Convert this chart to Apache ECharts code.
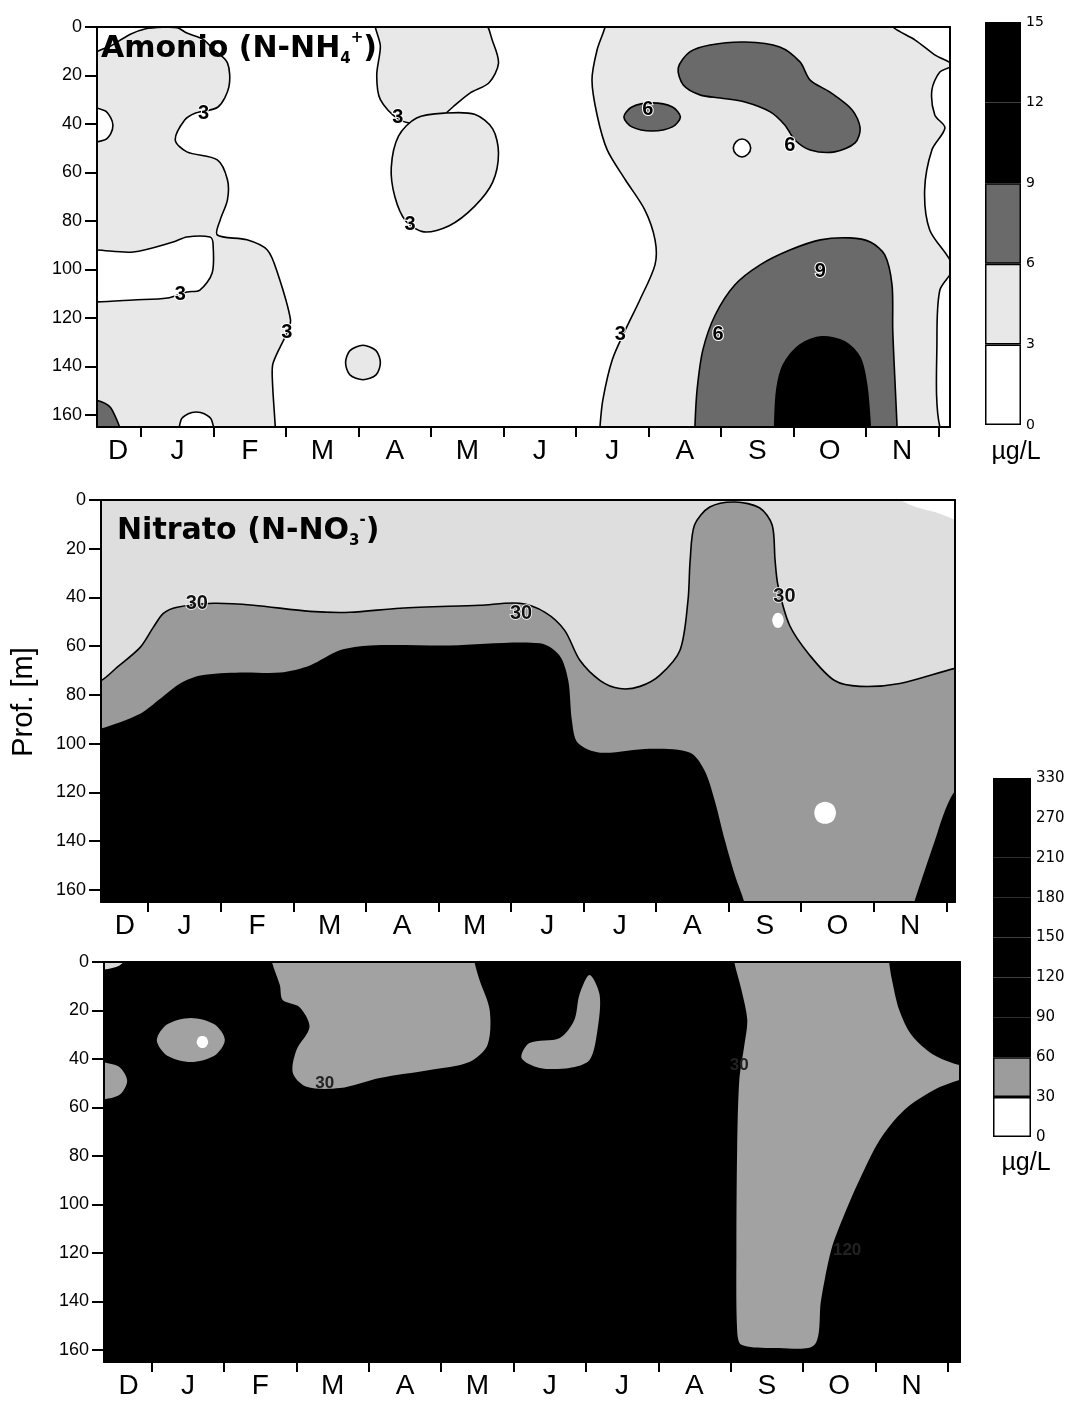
<!DOCTYPE html>
<html><head><meta charset="utf-8">
<script src="https://cdn.jsdelivr.net/npm/echarts@6/dist/echarts.min.js"></script>
<style>html,body{margin:0;padding:0;background:#fff}#c{width:1072px;height:1406px}</style>
</head><body><div id="c"></div>
<script>
// ---------- axes ----------
const monthLabels = ['D','J','F','M','A','M','J','J','A','S','O','N'];
const monthLabelPos = [0.68,1.5,2.5,3.5,4.5,5.5,6.5,7.5,8.5,9.5,10.5,11.5];
const monthTicks = [1,2,3,4,5,6,7,8,9,10,11,12];
const depthTicks = [0,20,40,60,80,100,120,140,160];

// ---------- panel 1 : Amonio, isolines [x (month position), depth m] ----------
const nh4_gt3_west = [[0.3,13],[0.6,7.5],[0.85,3],[1.05,0.8],[1.3,0.1],[1.5,0.3],[1.63,2.5],[1.85,5],[1.99,9],[2.19,14.8],[2.21,24.7],[2.06,33],[1.75,35.5],[1.6,38.4],[1.47,46.6],[1.63,51.5],[2.05,54.8],[2.19,63],[2.19,71.3],[2.09,79.6],[2.05,85.8],[2.46,87.8],[2.74,92],[2.88,101.4],[3.06,120.8],[3.01,126.2],[2.82,138.6],[2.81,145.6],[2.85,165],[2.86,172],[0.2,172]];
const nh4_gt3_north = [[4.25,-3],[4.3,8],[4.25,20],[4.3,30],[4.55,38],[4.85,40],[5.1,38],[5.3,33],[5.55,27],[5.8,23],[5.93,15],[5.85,6],[5.7,-3]];
const nh4_gt3_ring = [[4.55,45],[4.8,37.5],[5.2,35.5],[5.6,36],[5.85,42],[5.93,52],[5.85,64],[5.6,74],[5.25,82],[4.9,84.5],[4.65,80],[4.5,70],[4.45,58]];
const nh4_gt3_circle = [[4.06,131.3],[4.24,133.5],[4.3,138.5],[4.24,143.5],[4.06,145.5],[3.88,143.5],[3.82,138.5],[3.88,133.5]];
const nh4_gt3_east = [[7.4,-3],[7.4,0],[7.29,9.5],[7.22,21.9],[7.29,36.3],[7.43,50.7],[7.68,63],[7.95,75.5],[8.09,87.8],[8.09,98],[7.88,112.6],[7.68,125],[7.5,137.3],[7.37,153.8],[7.33,165],[7.32,172],[12.3,172],[12.02,165],[11.98,129],[12.02,108.5],[12.2,99],[11.88,83.7],[11.81,67.2],[11.91,50.7],[12.09,41.6],[11.95,36.3],[11.91,26],[12.02,18.6],[12.2,15.7],[11.95,11.5],[11.68,5.4],[11.37,0],[11.35,-3]];
const nh4_lt3_bump = [[0.2,33.4],[0.5,34.5],[0.58,37.5],[0.61,40.5],[0.58,44],[0.5,46.5],[0.2,47.4]];
const nh4_lt3_band = [[0.2,92],[0.39,92],[0.89,92.8],[1.44,88.7],[1.63,86.6],[1.95,86.6],[1.99,89],[1.98,101.4],[1.81,108.5],[1.63,109.3],[1.36,111.8],[0.89,112.6],[0.39,113.4],[0.2,113.4]];
const nh4_lt3_bottom = [[1.54,170],[1.55,162],[1.65,159.5],[1.76,158.8],[1.87,159.5],[1.97,162],[1.99,170]];
const nh4_lt3_hole = [[9.17,49.9],[9.21,47.3],[9.29,46.2],[9.37,47.3],[9.41,49.9],[9.37,52.5],[9.29,53.6],[9.21,52.5]];
const nh4_gt6_corner = [[0.2,153.5],[0.45,154.6],[0.6,158],[0.71,170],[0.2,170]];
const nh4_gt6_north = [[8.71,28],[8.48,23.9],[8.41,16.9],[8.57,10.3],[8.85,7.4],[9.33,6.2],[9.81,8.2],[10.09,14.4],[10.23,21.9],[10.5,26.8],[10.81,34.2],[10.92,41.6],[10.85,47.8],[10.57,51.5],[10.23,50.7],[10.02,46.6],[9.88,40.4],[9.68,35],[9.33,30.9],[8.99,29.3]];
const nh4_gt6_small = [[7.66,37.1],[7.77,33],[8.05,31.3],[8.33,33],[8.44,37.1],[8.33,41.2],[8.05,42.9],[7.77,41.2]];
const nh4_gt6_south = [[8.64,172],[8.64,165],[8.67,149.7],[8.75,133.2],[8.92,118.8],[9.19,106.4],[9.54,98.1],[9.95,92],[10.37,87.8],[10.78,87],[11.06,88.7],[11.26,94],[11.36,106.4],[11.37,125],[11.4,145.6],[11.43,165],[11.44,172]];
const nh4_gt9_south = [[9.74,172],[9.74,165],[9.77,149.7],[9.86,139.4],[10.09,131.1],[10.39,127.8],[10.71,129.9],[10.92,136.5],[11.01,147.6],[11.06,165],[11.06,172]];
const nh4Labels = [[1.86,35.5,'3'],[1.54,110.5,'3'],[3.01,126.2,'3'],[4.54,37.5,'3'],[4.71,81.6,'3'],[7.61,127,'3'],[7.99,34.2,'6'],[9.95,48.7,'6'],[8.96,127,'6'],[10.37,101,'9']];

// ---------- panel 2 : Nitrato ----------
const no3_gt30 = [[0.2,74.1],[0.35,74.1],[0.57,68.7],[0.89,60.5],[1.07,52.3],[1.21,46.5],[1.4,44],[1.9,42.4],[2.45,43.2],[3.23,45.7],[3.78,46.1],[4.47,44.4],[5.57,43.2],[6.12,42.4],[6.47,46.1],[6.74,53.5],[6.95,65.8],[7.23,74.1],[7.5,77.4],[7.78,76.5],[8.05,72],[8.33,61.7],[8.44,41.2],[8.47,24.7],[8.53,10.3],[8.74,2.9],[9.09,0.8],[9.43,3.3],[9.6,10.3],[9.64,24.7],[9.68,35],[9.84,51.4],[10.12,63.8],[10.46,74.1],[10.81,76.5],[11.36,75.3],[12.12,69.1],[12.3,68.5],[12.3,172],[0.2,172]];
const no3_gt60_west = [[0.2,94],[0.35,93.8],[0.89,87.7],[1.17,81.5],[1.44,75.3],[1.72,72],[2.27,70.8],[2.82,70.8],[3.23,67.9],[3.64,61.7],[4.06,59.7],[5.16,59.7],[6.4,58.8],[6.67,63.8],[6.79,74.1],[6.84,90.5],[6.92,99.6],[7.23,103.7],[7.91,102.1],[8.47,103.7],[8.67,111.1],[8.81,123.5],[8.95,139.9],[9.09,154.3],[9.22,165.4],[9.25,172],[0.2,172]];
const no3_gt60_east = [[11.5,172],[11.56,165],[11.7,152.3],[11.84,140],[11.98,127.6],[12.12,119.3],[12.3,115],[12.3,172]];
const no3_lt30_dot1 = [[9.6,49.4],[9.63,47],[9.68,46.3],[9.73,47],[9.76,49.4],[9.73,51.8],[9.68,52.5],[9.63,51.8]];
const no3_lt30_dot2 = [[10.18,128.4],[10.22,125.2],[10.33,123.9],[10.44,125.2],[10.48,128.4],[10.44,131.6],[10.33,132.9],[10.22,131.6]];
const no3_lt30_corner = [[11.25,-3],[12.3,-3],[12.3,9],[11.9,5.5],[11.5,2]];
const no3Labels = [[1.67,42.4,'30'],[6.14,46.5,'30'],[9.77,39.5,'30']];

// ---------- panel 3 ----------
const p3_lt60_east = [[9.05,-3],[9.05,0],[9.15,11.5],[9.23,23.9],[9.19,34.2],[9.12,48.7],[9.09,77.5],[9.08,118.8],[9.09,151.8],[9.15,157.9],[9.67,159.2],[10.16,157.9],[10.25,139.4],[10.39,118.8],[10.57,104.3],[10.78,89.9],[11.06,73.4],[11.4,61],[11.81,52.8],[12.16,48.7],[12.3,48],[12.3,42],[12.16,42.5],[11.81,38.4],[11.5,30.1],[11.33,19.8],[11.23,7.4],[11.19,0],[11.19,-3]];
const p3_lt60_mid = [[2.66,-3],[2.66,0],[2.77,9.5],[2.81,15.7],[3.04,18.6],[3.18,26.8],[3.0,36.3],[2.95,45.8],[3.14,51.5],[3.6,52],[4.15,47.8],[4.84,44.5],[5.39,41.2],[5.64,34.2],[5.67,19.8],[5.53,7.4],[5.46,0],[5.46,-3]];
const p3_lt60_ellipse = [[1.07,32.2],[1.21,25.8],[1.54,23.1],[1.87,25.8],[2.01,32.2],[1.87,38.6],[1.54,41.3],[1.21,38.6]];
const p3_lt60_edge = [[0.2,41.5],[0.34,41.5],[0.56,43.5],[0.66,49.1],[0.56,54.7],[0.34,56.7],[0.2,56.7]];
const p3_lt60_jul = [[7.05,5.4],[7.19,13.6],[7.16,28],[7.05,40.4],[6.77,43.7],[6.36,43.7],[6.11,39.6],[6.22,33.4],[6.64,31.3],[6.84,23.9],[6.91,13.6]];
const p3_lt30_spot = [[1.62,33],[1.65,31],[1.7,30.5],[1.75,31],[1.78,33],[1.75,35],[1.7,35.5],[1.65,35]];
const p3_lt30_corner = [[0.2,-3],[0.65,-3],[0.55,1.5],[0.2,3]];
const p3Labels = [[3.39,49.9,'30'],[9.12,42.5,'30'],[10.61,118.8,'120']];

// ---------- colour bars ----------
const cb1Levels = ['0','3','6','9','12','15'];
const cb1Colors = ['#ffffff','#e8e8e8','#6a6a6a','#000000','#000000'];
const cb2Levels = ['0','30','60','90','120','150','180','210','270','330'];
const cb2Colors = ['#ffffff','#9c9c9c','#000000','#000000','#000000','#000000','#000000','#000000','#000000'];

// ---------- styles ----------
const C_LIGHT = '#e8e8e8', C_DARK = '#6a6a6a', C_BLACK = '#000', C_WHITE = '#fff';
const C_P2_TOP = '#dedede', C_P2_MID = '#9a9a9a', C_P3_MID = '#a2a2a2';
const FONT = '"Liberation Sans", Arial, sans-serif';

const panels = [
  {left:97, top:27, width:853, height:400, min:0.39, max:12.16},
  {left:101, top:500, width:854, height:402, min:0.35, max:12.12},
  {left:104, top:962, width:856, height:400, min:0.34, max:12.17}
];

function poly(g, pts, fill, stroke, lw, z) {
  return {
    type:'custom', xAxisIndex:g, yAxisIndex:g, clip:true, silent:true, z:z,
    data:pts, encode:{x:0, y:1},
    renderItem: function (params, api) {
      if (params.dataIndexInside !== 0) return null;
      const points = [];
      for (let i = 0; i < params.dataInsideLength; i++) {
        points.push(api.coord([api.value(0, i), api.value(1, i)]));
      }
      return {type:'polygon', shape:{points:points, smooth:0.3},
        style:{fill:fill, stroke:stroke || null, lineWidth:lw || 0}};
    }
  };
}
function labels(g, data, style) {
  return {type:'scatter', xAxisIndex:g, yAxisIndex:g, data:data, symbolSize:0, silent:true, z:20,
    itemStyle:{color:'#000'},
    label:Object.assign({show:true, position:'inside', opacity:1, formatter:p => String(p.value[2]),
      fontSize:20, fontWeight:'bold', fontFamily:FONT, color:'#000'}, style)};
}

const grids = panels.map((p, i) => ({left:p.left, top:p.top, width:p.width, height:p.height,
  show:true, borderWidth:0, backgroundColor: i === 0 ? '#fff' : (i === 1 ? C_P2_TOP : '#000')}));
grids.push({left:985, top:22, width:36, height:403});
grids.push({left:993, top:778, width:38, height:359});

const xAxes = [], yAxes = [];
panels.forEach((p, g) => {
  xAxes.push({gridIndex:g, type:'value', min:p.min, max:p.max, z:50,
    axisLine:{show:true, onZero:false, lineStyle:{color:'#000', width:2}},
    axisTick:{show:true, customValues:monthTicks, length:10, lineStyle:{color:'#000', width:2}},
    axisLabel:{show:true, customValues:monthLabelPos, margin:10, fontSize:28, fontFamily:FONT, color:'#000',
      formatter:v => monthLabels[Math.round(v - 0.5)]},
    splitLine:{show:false}});
  yAxes.push({gridIndex:g, type:'value', inverse:true, min:0, max:165, z:50,
    axisLine:{show:true, onZero:false, lineStyle:{color:'#000', width:2}},
    axisTick:{show:true, customValues:depthTicks, length:12, lineStyle:{color:'#000', width:2}},
    axisLabel:{show:true, customValues:depthTicks, margin:15, fontSize:18, fontFamily:FONT, color:'#000'},
    splitLine:{show:false}});
});
// colour bar axes (index 3,4)
[cb1Levels, cb2Levels].forEach((lv, k) => {
  xAxes.push({gridIndex:3 + k, type:'category', data:['c'], show:false});
  yAxes.push({gridIndex:3 + k, type:'value', min:0, max:lv.length - 1, position:'right',
    axisLine:{show:false}, axisTick:{show:false}, splitLine:{show:false},
    axisLabel:{show:true, customValues:lv.map((_, i) => i), margin:5, fontSize:k === 0 ? 14 : 15,
      fontFamily:'"DejaVu Sans", sans-serif', color:'#000', formatter:v => lv[Math.round(v)]}});
});
// frame axes (top / right) index 5,6,7
panels.forEach((p, g) => {
  xAxes.push({gridIndex:g, type:'value', position:'top', min:p.min, max:p.max, z:50,
    axisLine:{show:true, onZero:false, lineStyle:{color:'#000', width:2}},
    axisTick:{show:false}, axisLabel:{show:false}, splitLine:{show:false}});
  yAxes.push({gridIndex:g, type:'value', position:'right', inverse:true, min:0, max:165, z:50,
    axisLine:{show:true, onZero:false, lineStyle:{color:'#000', width:2}},
    axisTick:{show:false}, axisLabel:{show:false}, splitLine:{show:false}});
});

const LW = 1.6;
const series = [
  // panel 1
  poly(0, nh4_gt3_west, C_LIGHT, '#000', LW, 3),
  poly(0, nh4_gt3_north, C_LIGHT, '#000', LW, 3),
  poly(0, nh4_gt3_ring, C_LIGHT, '#000', LW, 3),
  poly(0, nh4_gt3_circle, C_LIGHT, '#000', LW, 3),
  poly(0, nh4_gt3_east, C_LIGHT, '#000', LW, 3),
  poly(0, nh4_lt3_bump, C_WHITE, '#000', LW, 4),
  poly(0, nh4_lt3_band, C_WHITE, '#000', LW, 4),
  poly(0, nh4_lt3_bottom, C_WHITE, '#000', LW, 4),
  poly(0, nh4_lt3_hole, C_WHITE, '#000', LW, 4),
  poly(0, nh4_gt6_corner, C_DARK, '#000', LW, 5),
  poly(0, nh4_gt6_north, C_DARK, '#000', LW, 5),
  poly(0, nh4_gt6_small, C_DARK, '#000', LW, 5),
  poly(0, nh4_gt6_south, C_DARK, '#000', LW, 5),
  poly(0, nh4_gt9_south, C_BLACK, '#000', LW, 6),
  labels(0, nh4Labels, {textBorderColor:'#fff', textBorderWidth:2}),
  // panel 2
  poly(1, no3_lt30_corner, C_WHITE, null, 0, 3),
  poly(1, no3_gt30, C_P2_MID, '#000', LW, 4),
  poly(1, no3_gt60_west, C_BLACK, null, 0, 5),
  poly(1, no3_gt60_east, C_BLACK, null, 0, 5),
  poly(1, no3_lt30_dot1, C_WHITE, null, 0, 6),
  poly(1, no3_lt30_dot2, C_WHITE, null, 0, 6),
  labels(1, no3Labels, {textBorderColor:'#fff', textBorderWidth:1.5, color:'#111'}),
  // panel 3
  poly(2, p3_lt60_east, C_P3_MID, null, 0, 3),
  poly(2, p3_lt60_mid, C_P3_MID, null, 0, 3),
  poly(2, p3_lt60_ellipse, C_P3_MID, null, 0, 3),
  poly(2, p3_lt60_edge, C_P3_MID, null, 0, 3),
  poly(2, p3_lt60_jul, C_P3_MID, null, 0, 3),
  poly(2, p3_lt30_spot, C_WHITE, null, 0, 4),
  poly(2, p3_lt30_corner, '#d8d8d8', null, 0, 4),
  labels(2, p3Labels, {color:'#222', fontSize:17})
];
cb1Colors.forEach(c => series.push({type:'bar', xAxisIndex:3, yAxisIndex:3, stack:'cb1', data:[1], barWidth:'100%',
  silent:true, itemStyle:{color:c, borderColor:'#000', borderWidth:1.5}}));
cb2Colors.forEach(c => series.push({type:'bar', xAxisIndex:4, yAxisIndex:4, stack:'cb2', data:[1], barWidth:'100%',
  silent:true, itemStyle:{color:c, borderColor:'#000', borderWidth:1.5}}));

const titleRich = {
  a:{fontSize:30, fontWeight:'bold', fontFamily:'"DejaVu Sans", sans-serif', color:'#000', lineHeight:36},
  s:{fontSize:15, fontWeight:'bold', fontFamily:'"DejaVu Sans", sans-serif', color:'#000', lineHeight:15, verticalAlign:'bottom'},
  p:{fontSize:15, fontWeight:'bold', fontFamily:'"DejaVu Sans", sans-serif', color:'#000', lineHeight:15, verticalAlign:'top'}
};

const chart = echarts.init(document.getElementById('c'), null, {renderer:'canvas'});
chart.setOption({
  animation:false,
  backgroundColor:'#fff',
  title:[
    {left:101, top:31, padding:0, text:'{a|Amonio (N-NH}{s|4}{p|+}{a|)}', textStyle:{rich:titleRich}, z:30},
    {left:117, top:513, padding:0, text:'{a|Nitrato (N-NO}{s|3}{p|-}{a|)}', textStyle:{rich:titleRich}, z:30}
  ],
  grid:grids, xAxis:xAxes, yAxis:yAxes, series:series,
  graphic:[
    {type:'text', x:24, y:702, rotation:Math.PI / 2, z:100,
      style:{text:'Prof. [m]', font:'29px "Liberation Sans", Arial', fill:'#000', textAlign:'center', textVerticalAlign:'middle'}},
    {type:'text', x:1016, y:452, z:100,
      style:{text:'µg/L', font:'25px "Liberation Sans", Arial', fill:'#000', textAlign:'center', textVerticalAlign:'middle'}},
    {type:'text', x:1026, y:1163, z:100,
      style:{text:'µg/L', font:'25px "Liberation Sans", Arial', fill:'#000', textAlign:'center', textVerticalAlign:'middle'}}
  ]
});
</script></body></html>
